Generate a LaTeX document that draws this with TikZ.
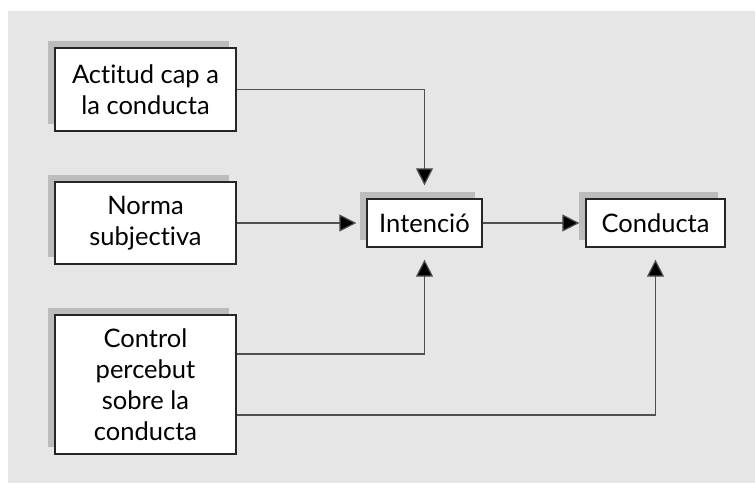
\documentclass[tikz,border=0pt]{standalone}
\usepackage{fontspec}
\setmainfont{Lato}[Ligatures=NoCommon]
\usetikzlibrary{arrows.meta}
\usetikzlibrary{shadows}
\definecolor{bggray}{RGB}{230,230,230}
\definecolor{shadowgray}{RGB}{188,188,188}
\definecolor{linegray}{RGB}{80,80,80}
\tikzset{
  box/.style={draw=black!85,line width=1.3pt,fill=white,align=center,
    inner sep=0pt,font=\fontsize{25.5}{31}\selectfont,
    general shadow={fill=shadowgray,shadow xshift=-7.5pt,shadow yshift=7pt}},
  link/.style={draw=linegray,line width=1.2pt,
    -{Triangle[length=17pt,width=17pt,fill=black]}}
}
\begin{document}
\begin{tikzpicture}[x=1pt,y=1pt]
\useasboundingbox (0,0) rectangle (755,-483);
\fill[bggray] (8,-11) rectangle (755,-483);
\node (actitud) at (145.5,-89.5)[box,minimum width=181pt,minimum height=83pt] {Actitud cap a\\la conducta};
\node (norma) at (145.5,-223)[box,minimum width=181pt,minimum height=82pt] {Norma\\subjectiva};
\node (control) at (145.5,-384.5)[box,minimum width=181pt,minimum height=139pt] {Control\\percebut\\sobre la\\conducta};
\node (intencio) at (424.5,-223)[box,minimum width=115pt,minimum height=48pt] {Intenció};
\node (conducta) at (655.5,-223)[box,minimum width=139pt,minimum height=48pt] {Conducta};
\draw[link,shorten >=13pt] (actitud.east) -| (intencio.north);
\draw[link,shorten >=10pt] (norma.east) -- (intencio.west);
\draw[link,shorten >=6pt] (intencio.east) -- (conducta.west);
\draw[link,shorten >=12pt] ([yshift=30.5pt]control.east) -| (intencio.south);
\draw[link,shorten >=12pt] ([yshift=-30.5pt]control.east) -| (conducta.south);
\end{tikzpicture}
\end{document}
